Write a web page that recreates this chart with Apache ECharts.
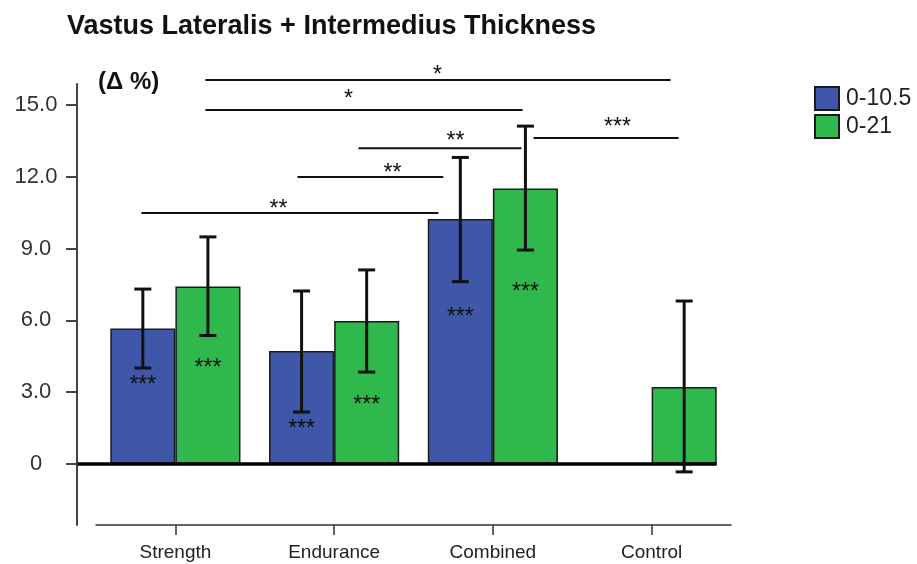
<!DOCTYPE html>
<html>
<head>
<meta charset="utf-8">
<script src="https://cdn.jsdelivr.net/npm/echarts@6/dist/echarts.min.js"></script>
<style>html,body{margin:0;padding:0;background:#fff}#c{width:917px;height:564px}</style>
</head>
<body>
<div id="c"></div>
<script>
var categories = ['Strength', 'Endurance', 'Combined', 'Control'];
var seriesNames = ['0-10.5', '0-21'];
var blueValues = [5.66, 4.72, 10.24, null];
var greenValues = [7.42, 5.98, 11.51, 3.22];
var blueLow = [4.01, 2.17, 7.62, null];
var blueHigh = [7.31, 7.23, 12.81, null];
var greenLow = [5.37, 3.84, 8.94, -0.33];
var greenHigh = [9.49, 8.11, 14.12, 6.81];
var yTicks = [0, 3, 6, 9, 12, 15];
// in-bar significance marks: [category, side(-1 blue / 1 green), y value, text]
var barStars = [
  [0, -1, 3.51, '***'], [0, 1, 4.22, '***'],
  [1, -1, 1.67, '***'], [1, 1, 2.67, '***'],
  [2, -1, 6.35, '***'], [2, 1, 7.40, '***']
];
// comparison brackets: [x start, x end (category units), y value, label x, label y, text]
var brackets = [
  [0.189, 3.119, 16.05, 1.651, 16.46, '*'],
  [0.189, 2.187, 14.79, 1.090, 15.46, '*'],
  [2.256, 3.170, 13.62, 2.785, 14.29, '***'],
  [1.153, 2.180, 13.20, 1.764, 13.71, '**'],
  [0.769, 1.688, 11.99, 1.367, 12.37, '**'],
  [-0.214, 1.657, 10.49, 0.649, 10.86, '**']
];
var zeroLine = [[-0.617, 3.41, 0]];

var BLUE = '#3e57a8', GREEN = '#2fb84b';
var FONT = 'Liberation Sans, Arial, sans-serif';
var CAT_GAP = 0.18;
var STAR_FONT = '23px ' + FONT;
var STAR_DY = 6;

function xPix(api, xv, yv) {
  var band = api.size([1, 0])[0];
  var p0 = api.coord([0, yv]);
  return [p0[0] + xv * band, p0[1]];
}

var errData = [];
for (var i = 0; i < categories.length; i++) {
  if (blueLow[i] != null) errData.push([i, blueLow[i], blueHigh[i], -1]);
  if (greenLow[i] != null) errData.push([i, greenLow[i], greenHigh[i], 1]);
}

var chart = echarts.init(document.getElementById('c'));
chart.setOption({
  animation: false,
  backgroundColor: '#fff',
  textStyle: { fontFamily: FONT },
  title: [
    { text: 'Vastus Lateralis + Intermedius Thickness', left: 62, top: 8,
      textStyle: { fontSize: 27, fontWeight: 'bold', color: '#111', fontFamily: FONT } },
    { text: '(Δ %)', left: 93, top: 65,
      textStyle: { fontSize: 24, fontWeight: 'bold', color: '#111', fontFamily: FONT } }
  ],
  legend: {
    orient: 'vertical', left: 814, top: 86, padding: 0, itemWidth: 24, itemHeight: 23, itemGap: 3,
    icon: 'rect', data: seriesNames,
    textStyle: { fontSize: 23, color: '#222', fontFamily: FONT, padding: [0, 0, 0, 2] }
  },
  grid: { left: 96, right: 186, top: 84, bottom: 39 },
  xAxis: {
    type: 'category', data: categories,
    axisLine: { show: true, onZero: false, lineStyle: { color: '#333', width: 1.5 } },
    axisTick: { show: true, alignWithLabel: true, length: 10, lineStyle: { color: '#333', width: 1.5 } },
    axisLabel: { fontSize: 19, color: '#222', margin: 18, fontFamily: FONT },
    splitLine: { show: false }
  },
  yAxis: {
    type: 'value', min: -2.55, max: 15.88, offset: 19,
    axisLine: { show: true, lineStyle: { color: '#444', width: 2 } },
    axisTick: { show: true, length: 11, customValues: yTicks, lineStyle: { color: '#444', width: 2 } },
    axisLabel: { fontSize: 22, color: '#333', margin: 41, align: 'center', customValues: yTicks, fontFamily: FONT,
      formatter: function (v) { return v === 0 ? '0' : v.toFixed(1); } },
    splitLine: { show: false }
  },
  series: [
    { name: seriesNames[0], type: 'bar', data: blueValues, barGap: '0%', barCategoryGap: '18%',
      itemStyle: { color: BLUE, borderColor: '#1a1a1a', borderWidth: 1.5 } },
    { name: seriesNames[1], type: 'bar', data: greenValues,
      itemStyle: { color: GREEN, borderColor: '#1a1a1a', borderWidth: 1.5 } },
    { type: 'custom', data: zeroLine, clip: false, z: 5,
      renderItem: function (params, api) {
        var a = xPix(api, api.value(0), api.value(2));
        var b = xPix(api, api.value(1), api.value(2));
        return { type: 'line', shape: { x1: a[0], y1: a[1], x2: b[0], y2: b[1] },
          style: { stroke: '#000', lineWidth: 3.5 } };
      } },
    { type: 'custom', data: errData, clip: false, z: 6,
      renderItem: function (params, api) {
        var idx = api.value(0), lo = api.value(1), hi = api.value(2), side = api.value(3);
        var band = api.size([1, 0])[0];
        var barW = band * (1 - CAT_GAP) / 2;
        var pLo = api.coord([idx, lo]), pHi = api.coord([idx, hi]);
        var cx = pLo[0] + side * barW / 2;
        var cap = 8.5;
        var st = { stroke: '#111', lineWidth: 3 };
        return { type: 'group', children: [
          { type: 'line', shape: { x1: cx, y1: pLo[1], x2: cx, y2: pHi[1] }, style: st },
          { type: 'line', shape: { x1: cx - cap, y1: pLo[1], x2: cx + cap, y2: pLo[1] }, style: st },
          { type: 'line', shape: { x1: cx - cap, y1: pHi[1], x2: cx + cap, y2: pHi[1] }, style: st }
        ] };
      } },
    { type: 'custom', data: barStars, clip: false, z: 7,
      renderItem: function (params, api) {
        var idx = api.value(0), side = api.value(1), yv = api.value(2);
        var band = api.size([1, 0])[0];
        var barW = band * (1 - CAT_GAP) / 2;
        var p = api.coord([idx, yv]);
        return { type: 'text', x: p[0] + side * barW / 2, y: p[1] + STAR_DY,
          style: { text: barStars[params.dataIndex][3], fill: '#111', font: STAR_FONT,
            align: 'center', verticalAlign: 'middle' } };
      } },
    { type: 'custom', data: brackets, clip: false, z: 7,
      renderItem: function (params, api) {
        var a = xPix(api, api.value(0), api.value(2));
        var b = xPix(api, api.value(1), api.value(2));
        var t = xPix(api, api.value(3), api.value(4));
        return { type: 'group', children: [
          { type: 'line', shape: { x1: a[0], y1: a[1], x2: b[0], y2: b[1] },
            style: { stroke: '#111', lineWidth: 2 } },
          { type: 'text', x: t[0], y: t[1] + STAR_DY,
            style: { text: brackets[params.dataIndex][5], fill: '#111', font: STAR_FONT,
              align: 'center', verticalAlign: 'middle' } }
        ] };
      } }
  ]
});
</script>
</body>
</html>
